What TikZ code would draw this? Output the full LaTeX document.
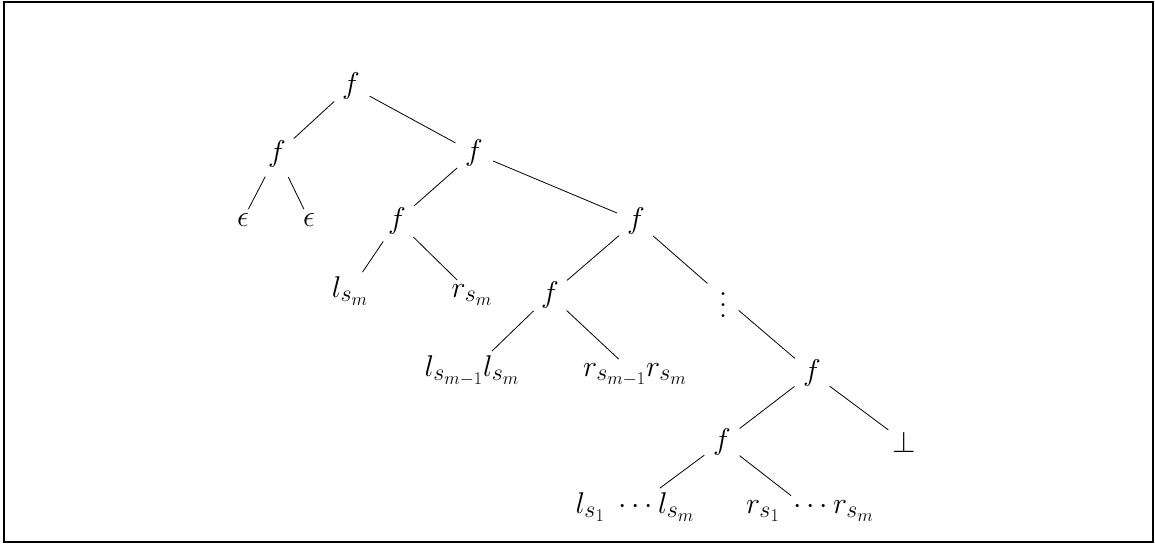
\RequirePackage{fix-cm}
\documentclass[tikz,border=0pt]{standalone}
\usetikzlibrary{shapes.geometric}
\DeclareMathSizes{30}{30}{24}{18}
\begin{document}
\begin{tikzpicture}[x=1pt,y=-1pt,
  fn/.style={ellipse, minimum width=40pt, minimum height=56pt, inner sep=0pt, outer sep=0pt, font=\fontsize{30}{36}\selectfont},
  leaf/.style={rectangle, inner sep=4pt, outer sep=0pt, anchor=base, font=\fontsize{30}{36}\selectfont},
  dotsnode/.style={circle, minimum size=33pt, inner sep=0pt, outer sep=0pt},
  edge/.style={line width=0.8pt}]
\useasboundingbox (0,0) rectangle (1155,544);
\draw[line width=2pt] (3.5,1.5) rectangle (1153,541.5);
% nodes
\node[fn] (r) at (351,86) {$f$};
\node[fn] (a) at (277,154) {$f$};
\node[leaf] (e1) at (243,226) {$\epsilon$};
\node[leaf] (e2) at (309,226) {$\epsilon$};
\node[fn] (b) at (474,153) {$f$};
\node[fn] (c) at (397,221) {$f$};
\node[leaf] (l1) at (350,297) {$l_{s_m}$};
\node[leaf] (r1) at (472,297) {$r_{s_m}$};
\node[fn] (d) at (636,221) {$f$};
\node[fn] (g) at (550,295) {$f$};
\node[leaf] (l2) at (472,376) {$l_{s_{m-1}}l_{s_m}$};
\node[leaf] (r2) at (635,376) {$r_{s_{m-1}}r_{s_m}$};
\node[dotsnode] (v) at (723,297) {\scalebox{2.7}{\normalsize$\vdots$}};
\node[fn] (h) at (812,373) {$f$};
\node[fn] (k) at (722,442) {$f$};
\node[leaf] (bot) at (904,452) {$\bot$};
\node[leaf] (l3) at (635,513) {$l_{s_1}\;\cdots l_{s_m}$};
\node[leaf] (r3) at (810,513) {$r_{s_1}\;\cdots r_{s_m}$};
% edges
\draw[edge] (r) -- (a);
\draw[edge] (r) -- (b);
\draw[edge] (a) -- (e1);
\draw[edge] (a) -- (e2);
\draw[edge] (b) -- (c);
\draw[edge] (b) -- (d);
\draw[edge] (c) -- (l1);
\draw[edge] (c) -- (r1);
\draw[edge] (d) -- (g);
\draw[edge] (d) -- (v);
\draw[edge] (v) -- (h);
\draw[edge] (g) -- (l2);
\draw[edge] (g) -- (r2);
\draw[edge] (h) -- (k);
\draw[edge] (h) -- (bot);
\draw[edge] (k) -- (l3);
\draw[edge] (k) -- (r3);
\end{tikzpicture}
\end{document}
